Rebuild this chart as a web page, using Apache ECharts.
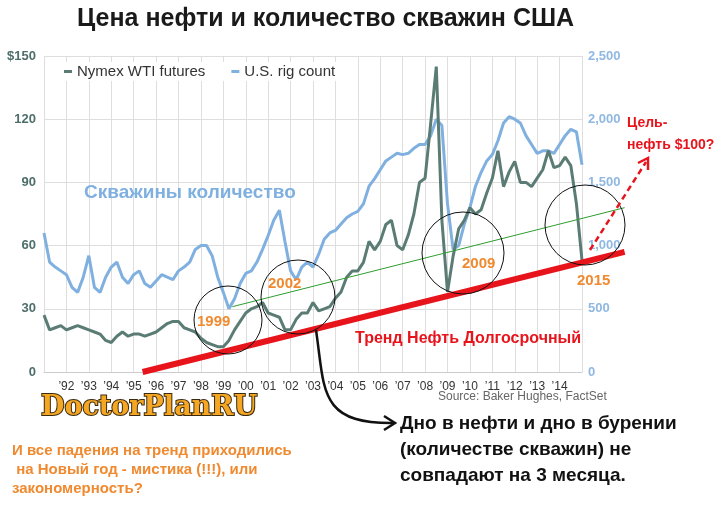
<!DOCTYPE html>
<html><head><meta charset="utf-8">
<script src="https://cdn.jsdelivr.net/npm/echarts@6/dist/echarts.min.js"></script>
<style>html,body{margin:0;padding:0;background:#fff}#c{width:720px;height:513px}</style>
</head><body><div id="c"></div>
<script>
// квартальные значения, с 1991 по 2014 (+ начало 2015)
var startYear = 1991;
var oilQ = [
  27,20,21,22, 20,21,22,21, 20,19,18,15, 14,17,19,17, 18,18,17,18,
  19,21,23,24, 24,21,20,19, 16,14,13,12, 12,15,20,24, 28,30,31,33,
  28,27,26,20, 20,25,28,28, 33,29,30,31, 35,38,45,48, 48,52,62,58,
  62,70,72,60, 58,65,75,90, 92,118,145,72, 38,55,68,72, 78,75,77,85,
  92,105,88,95, 100,90,90,88, 92,96,105,97, 98,102,98,80, 53
];
var rigQ = [
  1100,870,830,800, 770,670,630,750, 920,670,630,750, 830,870,750,700, 770,800,700,670,
  720,770,750,730, 800,830,870,970, 1000,1000,920,750, 630,500,580,700, 780,800,870,970,
  1080,1200,1280,1030, 800,730,830,870, 830,930,1050,1100, 1120,1170,1220,1250, 1270,1330,1470,1530,
  1600,1670,1700,1730, 1720,1730,1770,1800, 1800,1870,2000,1950, 1330,970,1000,1170, 1300,1470,1580,1670,
  1720,1830,1970,2020, 2000,1970,1870,1800, 1730,1750,1750,1730, 1800,1870,1920,1900, 1640
];
var trendRed = [[1995.4, 0], [2016.9, 57]];
var trendGreen = [[1999.4, 31], [2016.9, 78]];

function toPairs(arr) {
  return arr.map(function (v, i) { return [startYear + i * 0.25, v]; });
}

var chart = echarts.init(document.getElementById('c'));
var ff = '"Liberation Sans", Arial, sans-serif';
var option = {
  backgroundColor: '#fff',
  animation: false,
  title: {
    text: 'Цена нефти и количество скважин США',
    left: 72, top: 2,
    textStyle: { fontFamily: '"Liberation Sans Narrow", "Liberation Sans", sans-serif', fontSize: 25, fontWeight: 'bold', color: '#1a1a1a' }
  },
  legend: {
    left: 58, top: 62, itemWidth: 8, itemHeight: 3, itemGap: 26,
    backgroundColor: '#fff', padding: [2, 6],
    textStyle: { fontFamily: ff, fontSize: 15, color: '#333' },
    data: [{ name: 'Nymex WTI futures', icon: 'rect' }, { name: 'U.S. rig count', icon: 'rect' }]
  },
  grid: { left: 44, right: 138, top: 56, bottom: 141 },
  xAxis: {
    type: 'value', min: 1991, max: 2015, interval: 1,
    axisLine: { show: true, lineStyle: { color: '#ccc' } },
    axisTick: { show: false },
    splitLine: { show: true, lineStyle: { color: '#dedede' } },
    axisLabel: {
      fontFamily: ff, fontSize: 12, color: '#333', margin: 9,
      formatter: function (v) { return (v <= 1991 || v >= 2015) ? '' : '\u2019' + String(v).slice(2); }
    }
  },
  yAxis: [
    { type: 'value', min: 0, max: 150, interval: 30,
      axisLine: { show: false }, axisTick: { show: false },
      splitLine: { lineStyle: { color: '#dedede' } },
      axisLabel: { fontFamily: ff, fontSize: 13, fontWeight: 'bold', color: '#4d6e6a', margin: 8,
        formatter: function (v) { return v === 150 ? '$150' : v; } } },
    { type: 'value', min: 0, max: 2500, interval: 500,
      axisLine: { show: false }, axisTick: { show: false }, splitLine: { show: false },
      axisLabel: { fontFamily: ff, fontSize: 13, fontWeight: 'bold', color: '#8fb8e2', margin: 6,
        formatter: function (v) { return v.toLocaleString('en-US'); } } }
  ],
  series: [
    { name: 'U.S. rig count', type: 'line', yAxisIndex: 1, data: toPairs(rigQ), showSymbol: false,
      lineStyle: { color: '#7fb0e0', width: 3 }, itemStyle: { color: '#7fb0e0' }, z: 2 },
    { name: 'Nymex WTI futures', type: 'line', data: toPairs(oilQ), showSymbol: false,
      lineStyle: { color: '#5b7c75', width: 3 }, itemStyle: { color: '#5b7c75' }, z: 3 }
  ]
};
chart.setOption(option);

// линии тренда выходят за край графика — рисуем через пересчёт координат
var px = function (p) { return chart.convertToPixel({ gridIndex: 0 }, p); };
var g1 = px(trendGreen[0]), g2 = px(trendGreen[1]);
var r1 = px(trendRed[0]), r2 = px(trendRed[1]);

chart.setOption({
  graphic: [
    { type: 'line', shape: { x1: g1[0], y1: g1[1], x2: g2[0], y2: g2[1] }, style: { stroke: '#2e9e2e', lineWidth: 1 }, z: 9 },
    { type: 'line', shape: { x1: r1[0], y1: r1[1], x2: r2[0], y2: r2[1] }, style: { stroke: '#e8141c', lineWidth: 6 }, z: 9 },
    { type: 'circle', shape: { cx: 228, cy: 320, r: 34 }, style: { fill: 'none', stroke: '#111', lineWidth: 1 }, z: 10 },
    { type: 'circle', shape: { cx: 298, cy: 297, r: 37 }, style: { fill: 'none', stroke: '#111', lineWidth: 1 }, z: 10 },
    { type: 'circle', shape: { cx: 463, cy: 253, r: 41 }, style: { fill: 'none', stroke: '#111', lineWidth: 1 }, z: 10 },
    { type: 'circle', shape: { cx: 585, cy: 225, r: 40 }, style: { fill: 'none', stroke: '#111', lineWidth: 1 }, z: 10 },
    { type: 'text', left: 84, top: 183, style: { text: 'Скважины количество', font: 'bold 19px ' + ff, fill: '#7fb0e0' }, z: 10 },
    { type: 'text', left: 197, top: 314, style: { text: '1999', font: 'bold 15px ' + ff, fill: '#f08a30' }, z: 10 },
    { type: 'text', left: 268, top: 276, style: { text: '2002', font: 'bold 15px ' + ff, fill: '#f08a30' }, z: 10 },
    { type: 'text', left: 462, top: 256, style: { text: '2009', font: 'bold 15px ' + ff, fill: '#f08a30' }, z: 10 },
    { type: 'text', left: 577, top: 273, style: { text: '2015', font: 'bold 15px ' + ff, fill: '#f08a30' }, z: 10 },
    { type: 'text', left: 355, top: 331, style: { text: 'Тренд Нефть Долгосрочный', font: 'bold 16px ' + ff, fill: '#e8141c' }, z: 10 },
    { type: 'text', left: 627, top: 112, style: { text: 'Цель-\nнефть $100?', font: 'bold 14px ' + ff, fill: '#e8141c', lineHeight: 22 }, z: 10 },
    { type: 'line', shape: { x1: 590, y1: 250, x2: 646, y2: 162 }, style: { stroke: '#e8141c', lineWidth: 2.5, lineDash: [6, 4] }, z: 10 },
    { type: 'polyline', shape: { points: [[638, 163], [648, 158], [648, 170]] }, style: { stroke: '#e8141c', lineWidth: 2.5, fill: 'none' }, z: 10 },
    { type: 'bezierCurve', shape: { x1: 316, y1: 330, cpx1: 325, cpy1: 390, cpx2: 318, cpy2: 424, x2: 394, y2: 423 },
      style: { stroke: '#111', lineWidth: 2.5, fill: 'none' }, z: 10 },
    { type: 'polyline', shape: { points: [[384, 416], [395, 423], [384, 430]] }, style: { stroke: '#111', lineWidth: 2.5, fill: 'none' }, z: 10 },
    { type: 'text', left: 438, top: 391, style: { text: 'Source: Baker Hughes, FactSet', font: '12px ' + ff, fill: '#666' }, z: 10 },
    { type: 'text', left: 40, top: 393, style: { text: 'DoctorPlanRU', font: 'bold 27px "DejaVu Serif", serif', fill: '#f5a623', stroke: '#3a2a10', lineWidth: 2 }, z: 10 },
    { type: 'text', left: 400, top: 411, style: { text: 'Дно в нефти и дно в бурении\n(количестве скважин) не\nсовпадают на 3 месяца.', font: 'bold 19px ' + ff, fill: '#111', lineHeight: 26 }, z: 10 },
    { type: 'text', left: 12, top: 441, style: { text: 'И все падения на тренд приходились\n на Новый год - мистика (!!!), или\nзакономерность?', font: 'bold 15px "Liberation Sans Narrow", ' + ff, fill: '#f08a30', lineHeight: 19 }, z: 10 }
  ]
});
window.addEventListener('resize', function () { chart.resize(); });
</script>
</body></html>
